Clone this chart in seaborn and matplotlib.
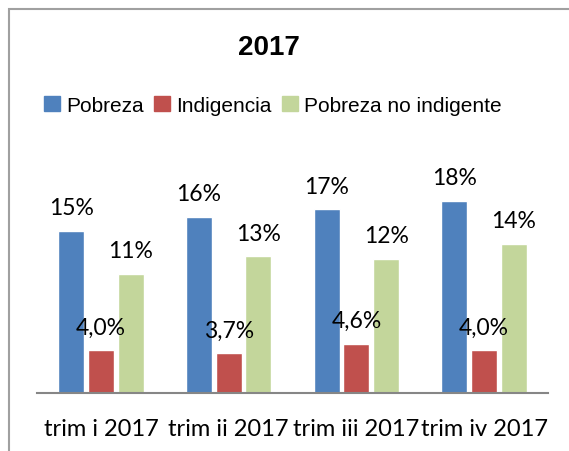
import seaborn as sns
import pandas as pd
import matplotlib.pyplot as plt
from matplotlib.patches import Rectangle

# datos (porcentajes)
trimestres = ["trim i 2017", "trim ii 2017", "trim iii 2017", "trim iv 2017"]
pobreza = [15.1, 16.4, 17.1, 17.9]
indigencia = [4.0, 3.7, 4.6, 4.0]
no_indigente = [11.1, 12.7, 12.5, 13.9]
series = ["Pobreza", "Indigencia", "Pobreza no indigente"]
colores = ["#4F81BD", "#C0504D", "#C3D69B"]

df = pd.DataFrame({
    "trim": trimestres * 3,
    "serie": [s for s in series for _ in trimestres],
    "valor": pobreza + indigencia + no_indigente,
})

sns.set_style("white")
plt.rcParams["font.family"] = ["Lato", "DejaVu Sans"]
plt.rcParams["text.color"] = "black"

fig = plt.figure(figsize=(5.69, 4.52), dpi=100)
ax = fig.add_axes([37 / 569, (452 - 394) / 452, 511 / 569, 215 / 452])

sns.barplot(data=df, x="trim", y="valor", hue="serie", palette=colores,
            width=0.70, gap=0.13, ax=ax, legend=False, saturation=1)

ax.set_ylim(0, 20)
ax.set_xlim(-0.5, 3.5)
ax.set_xlabel("")
ax.set_ylabel("")
ax.set_yticks([])
for s in ["top", "right", "left"]:
    ax.spines[s].set_visible(False)
ax.spines["bottom"].set_color("#868686")
ax.spines["bottom"].set_linewidth(1.5)
ax.tick_params(axis="x", length=0, labelsize=17, pad=18, colors="black")

# etiquetas de datos
for cont, s in zip(ax.containers, series):
    for bar in cont:
        h = bar.get_height()
        if s == "Indigencia":
            txt = f"{h:.1f}%".replace(".", ",")
        else:
            txt = f"{round(h):.0f}%"
        ax.annotate(txt, (bar.get_x() + bar.get_width() / 2, h),
                    xytext=(0, 16.5), textcoords="offset points",
                    ha="center", va="center", fontsize=16.5, color="black",
                    annotation_clip=False)

fig.text(269 / 569, 1 - 48 / 452, "2017", ha="center", va="center",
         fontsize=20, fontweight="bold", family=["Liberation Sans", "DejaVu Sans"])

handles = [plt.Rectangle((0, 0), 1, 1, color=c) for c in colores]
fig.legend(handles, series, loc="center", bbox_to_anchor=(273 / 569, 1 - 106 / 452),
           ncol=3, frameon=False, handlelength=0.75, handleheight=0.75,
           handletextpad=0.3, columnspacing=0.5,
           prop={"family": ["Liberation Sans", "DejaVu Sans"], "size": 15})

fig.patches.append(Rectangle((9 / 569, -0.1), 1.2, 1 - 10 / 452 + 0.1,
                             transform=fig.transFigure, fill=False,
                             edgecolor="#A0A0A0", linewidth=1.5))

fig.savefig("out.png", dpi=100)
